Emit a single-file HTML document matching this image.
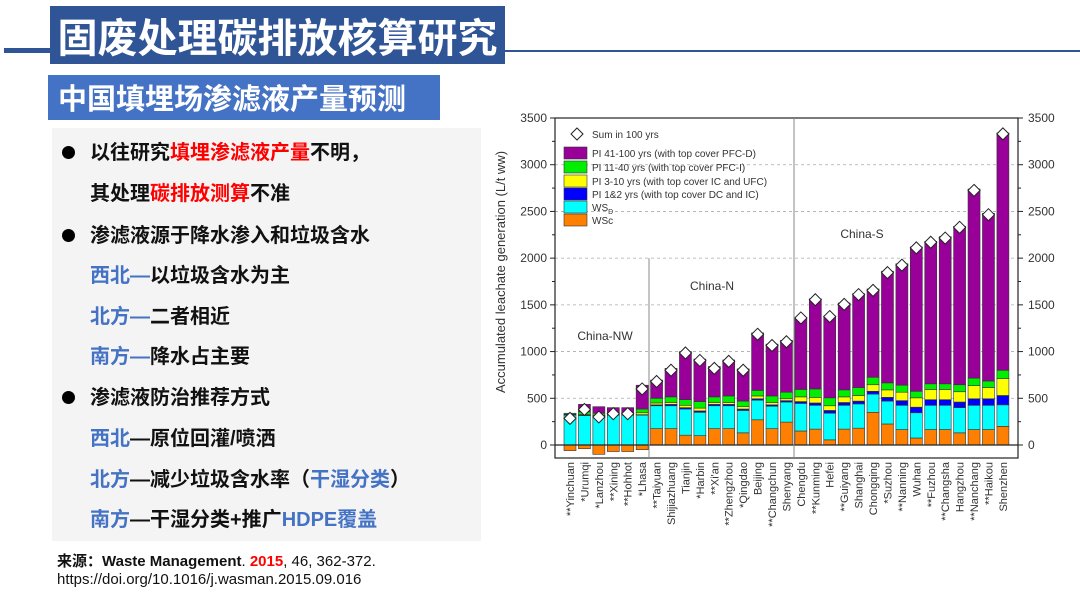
<!DOCTYPE html>
<html><head><meta charset="utf-8"><style>
body{margin:0;width:1080px;height:602px;overflow:hidden;background:#fff;font-family:"Liberation Sans","Noto Sans CJK SC",sans-serif;position:relative}
.abs{position:absolute}
.ln{position:absolute;left:90px;font-size:20px;font-weight:bold;color:#111;white-space:nowrap;line-height:24px}
.r{color:#ff0000}.b{color:#4472c4}
.dot{position:absolute;left:62px;width:13px;height:13px;border-radius:50%;background:#000}
</style></head><body>
<div class="abs" style="left:4px;top:48px;width:48px;height:5px;background:#2f5597"></div>
<div class="abs" style="left:505px;top:50px;width:575px;height:2px;background:#2f5597"></div>
<div class="abs" style="left:50px;top:6px;width:455px;height:58px;background:#2f5597;color:#fff;font-size:40px;font-weight:bold;line-height:58px;text-align:center;font-family:'Noto Sans CJK SC',sans-serif">固废处理碳排放核算研究</div>
<div class="abs" style="left:48px;top:75px;width:392px;height:45px;background:#4472c4;color:#fff;font-size:29px;font-weight:bold;line-height:45px;padding-left:10px;box-sizing:border-box;font-family:'Noto Sans CJK SC',sans-serif">中国填埋场渗滤液产量预测</div>
<div class="abs" style="left:52px;top:128px;width:429px;height:413px;background:#f4f4f4"></div>
<div class="dot" style="top:146px"></div>
<div class="ln" style="top:141px">以往研究<span class="r">填埋渗滤液产量</span>不明，</div>
<div class="ln" style="top:182px">其处理<span class="r">碳排放测算</span>不准</div>
<div class="dot" style="top:229px"></div>
<div class="ln" style="top:224px">渗滤液源于降水渗入和垃圾含水</div>
<div class="ln" style="top:264px"><span class="b">西北—</span>以垃圾含水为主</div>
<div class="ln" style="top:305px"><span class="b">北方—</span>二者相近</div>
<div class="ln" style="top:345px"><span class="b">南方—</span>降水占主要</div>
<div class="dot" style="top:391px"></div>
<div class="ln" style="top:386px">渗滤液防治推荐方式</div>
<div class="ln" style="top:427px"><span class="b">西北</span>—原位回灌/喷洒</div>
<div class="ln" style="top:468px"><span class="b">北方</span>—减少垃圾含水率（<span class="b">干湿分类</span>）</div>
<div class="ln" style="top:508px"><span class="b">南方</span>—干湿分类+推广<span class="b">HDPE覆盖</span></div>
<div class="abs" style="left:57px;top:553px;font-size:15px;line-height:18px;color:#111;white-space:nowrap"><b>来源：Waste Management</b>. <b style="color:#ff0000">2015</b>, 46, 362-372.<br>https://doi.org/10.1016/j.wasman.2015.09.016</div>

<svg class="abs" style="left:0;top:0" width="1080" height="602" id="chart" font-family="Liberation Sans, sans-serif"></svg>
<script>
const cities=["**Yinchuan","*Urumqi","*Lanzhou","**Xining","**Hohhot","*Lhasa","**Taiyuan","Shijiazhuang","Tianjin","*Harbin","**Xi'an","**Zhengzhou","*Qingdao","Beijing","**Changchun","Shenyang","Chengdu","**Kunming","Hefei","**Guiyang","Shanghai","Chongqing","*Suzhou","**Nanning","Wuhan","**Fuzhou","**Changsha","Hangzhou","**Nanchang","**Haikou","Shenzhen"];
const wsC=[-60,-40,-100,-70,-70,-50,175,175,105,100,175,175,130,270,175,245,150,170,55,170,180,350,225,165,75,165,165,130,165,165,200];
const wsD=[320,315,310,320,320,320,245,245,280,250,245,245,240,210,240,215,295,255,285,255,260,195,245,260,270,260,260,270,260,260,230];
const pi12=[10,5,5,5,5,5,10,15,15,15,15,15,15,15,15,15,20,25,30,30,30,30,40,50,60,60,60,60,70,70,100];
const pi310=[0,5,5,5,5,20,20,20,25,30,20,20,25,30,25,20,50,60,50,60,60,70,80,90,100,110,110,110,140,120,180];
const pi1140=[10,30,20,20,20,40,50,60,60,70,60,70,60,60,70,70,80,90,85,75,85,80,75,75,70,60,60,75,80,70,90];
const pi41100=[0,80,70,50,50,255,195,305,515,455,325,385,345,615,555,555,760,965,875,930,1005,945,1195,1300,1545,1525,1575,1695,2025,1795,2540];
const sums=[285,380,300,335,335,600,680,800,985,905,820,895,800,1185,1065,1105,1360,1555,1375,1505,1610,1655,1845,1925,2110,2170,2215,2330,2725,2465,3330];
const yTicks=[0,500,1000,1500,2000,2500,3000,3500];
const legendLabels=["PI  41-100 yrs (with top cover PFC-D)","PI 11-40 yrs (with top cover PFC-I)","PI  3-10 yrs (with top cover  IC and UFC)","PI 1&2 yrs (with top cover DC and IC)","WS","WSc"];
const NS="http://www.w3.org/2000/svg";
const svg=document.getElementById('chart');
const L=555,R=1018,T=118,B=458,Y0=445,K=327/3500;
const y=v=>Y0-v*K;
const x=i=>570+i*14.43;
function el(t,a,p){const e=document.createElementNS(NS,t);for(const k in a)e.setAttribute(k,a[k]);(p||svg).appendChild(e);return e;}
// grid
yTicks.forEach(v=>{if(v>0&&v<3500){const g=el('line',{x1:L,x2:R,y1:y(v),y2:y(v),stroke:'#aaa','stroke-dasharray':'3,3','stroke-width':0.8});

}});
// bars
const colors=['#ff8000','#00ffff','#0000ff','#ffff00','#00ee00','#990099'];
const series=[wsD,pi12,pi310,pi1140,pi41100];
cities.forEach((c,i)=>{
  const w=12,xl=x(i)-w/2;
  const r0=el('rect',{x:xl,width:w,y:Math.min(y(0),y(wsC[i])),height:Math.abs(wsC[i])*K,fill:colors[0],stroke:'#333','stroke-width':0.6});
  
  
  let base=Math.max(0,wsC[i]);
  series.forEach((s,j)=>{
    const r=el('rect',{x:xl,width:w,y:y(base+s[i]),height:s[i]*K,fill:colors[j+1],stroke:'#333','stroke-width':0.6});
    
    
    base+=s[i];
  });
  const d=el('path',{d:`M${x(i)} ${y(sums[i])-6}l6 6l-6 6l-6 -6z`,fill:'#fff',stroke:'#222','stroke-width':1});
  
  
  const t=el('text',{x:0,y:0,'font-size':11,fill:'#333','text-anchor':'end',transform:`translate(${x(i)+4},${B+4}) rotate(-90)`});
  t.textContent=c;
  
  
});
// frame & axes
el('rect',{x:L,y:T,width:R-L,height:B-T,fill:'none',stroke:'#222','stroke-width':1.2});
el('line',{x1:L,x2:R,y1:Y0,y2:Y0,stroke:'#222','stroke-width':1.2});
el('line',{x1:649,x2:649,y1:y(2000),y2:B,stroke:'#888','stroke-width':1});
el('line',{x1:794,x2:794,y1:T,y2:B,stroke:'#888','stroke-width':1});
for(let v=0;v<=3500;v+=250){const len=v%500?3:5;
 el('line',{x1:L-len,x2:L,y1:y(v),y2:y(v),stroke:'#222'});el('line',{x1:R,x2:R+len,y1:y(v),y2:y(v),stroke:'#222'});}
yTicks.forEach(v=>{
 const a=el('text',{x:L-8,y:y(v)+4,'font-size':12,fill:'#333','text-anchor':'end'});a.textContent=v;
 
 
 const b=el('text',{x:R+10,y:y(v)+4,'font-size':12,fill:'#333'});b.textContent=v;
 
 
});
const yt=el('text',{x:0,y:0,'font-size':13,fill:'#333','text-anchor':'middle',transform:'translate(505,272) rotate(-90)'});
yt.textContent='Accumulated leachate generation (L/t ww)';


[['China-NW',605,340],['China-N',712,290],['China-S',862,238]].forEach(r=>{const t=el('text',{x:r[1],y:r[2],'font-size':12,fill:'#333','text-anchor':'middle'});t.textContent=r[0];
 
 });
// legend
el('path',{d:'M577 128l6 6l-6 6l-6 -6z',fill:'#fff',stroke:'#222'});
const ls=el('text',{x:592,y:138,'font-size':10,fill:'#333'});ls.textContent='Sum in 100 yrs';
const lc=['#990099','#00ee00','#ffff00','#0000ff','#00ffff','#ff8000'];
const ly=[153,167,181,194,207,220];
legendLabels.forEach((l,i)=>{
 const r=el('rect',{x:564,y:ly[i]-6,width:23,height:12,fill:lc[i],stroke:'#333','stroke-width':0.6});
 
 
 const t=el('text',{x:592,y:ly[i]+4,'font-size':10,fill:'#333'});t.textContent=l;
 if(l==='WS'){const s=el('tspan',{'font-size':7,dy:3},t);s.textContent='D';}
 
 
});
</script>
</body></html>
